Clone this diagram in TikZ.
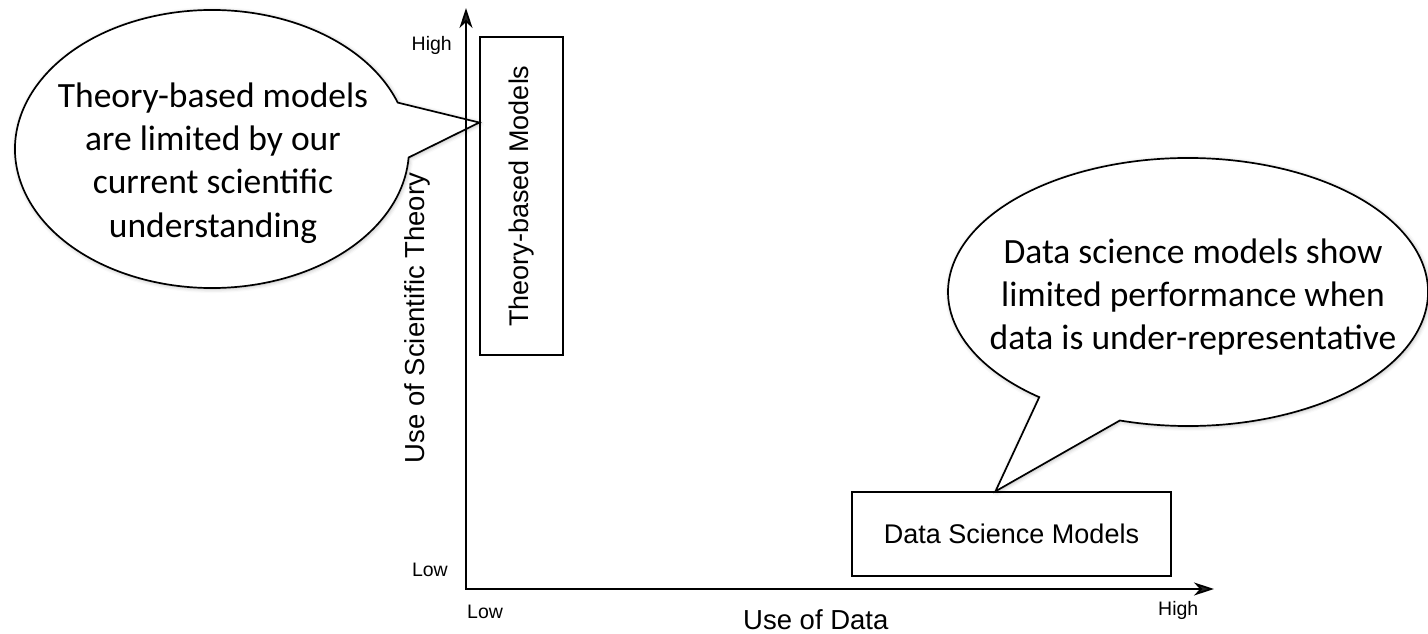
\documentclass[tikz,border=0pt]{standalone}
\usepackage{fontspec}
\setmainfont{Liberation Sans}
\newfontfamily\calloutfont{Carlito}
\usetikzlibrary{arrows.meta,calc,shadows.blur}

\begin{document}
\begin{tikzpicture}[x=1pt,y=1pt,
  frame/.style={draw, line width=1.4pt, inner sep=0pt},
  axisline/.style={line width=1.7pt, line join=miter,
    {Stealth[length=20pt,width=13pt,inset=6pt]}-{Stealth[length=20pt,width=13pt,inset=6pt]}},
  bubble/.style={draw, fill=white, line width=1.7pt, line join=miter,
    blur shadow={shadow xshift=1pt, shadow yshift=-1pt, shadow blur radius=4pt, shadow opacity=30}},
  ticklbl/.style={font=\fontsize{19.5}{22}\selectfont, inner sep=0pt},
  axislbl/.style={font=\fontsize{27.5}{32}\selectfont, inner sep=0pt},
  boxlbl/.style={font=\fontsize{27}{32}\selectfont, inner sep=0pt},
  calltext/.style={font=\calloutfont\fontsize{35.5}{43.3}\selectfont, align=center, inner sep=0pt}]
\useasboundingbox (0,0) rectangle (1428,633);

% model boxes
\node[frame, minimum width=83pt, minimum height=318pt] (tbox) at (521.5,437) {};
\node[boxlbl, rotate=90] (tlbl) at (tbox.center) {Theory-based Models};
\node[frame, minimum width=319pt, minimum height=84pt] (dbox) at (1011.5,99) {};
\node[boxlbl] (dlbl) at (dbox.center) {Data Science Models};

% callout tips on the boxes
\coordinate (tip1) at ($(tbox.north west)!0.27!(tbox.south west)$);
\coordinate (tip2) at ($(dbox.north west)!0.45!(dbox.north east)$);

% speech bubbles
\coordinate (c1) at (212,484);
\draw[bubble] ($(c1)+(19.5:197pt and 139pt)$)
  arc[start angle=19.5, end angle=356.5, x radius=197pt, y radius=139pt]
  -- (tip1) -- cycle;
\node[calltext] (t1) at (213,470) {Theory-based models\\are limited by our\\current scientific\\understanding};

\coordinate (c2) at (1188,341);
\draw[bubble] ($(c2)+(253.5:240pt and 134pt)$)
  arc[start angle=253.5, end angle=591.7, x radius=240pt, y radius=134pt]
  -- (tip2) -- cycle;
\node[calltext] (t2) at (1193,336) {Data science models show\\limited performance when\\data is under-representative};

% axes
\coordinate (O) at (466,44);
\coordinate (ytip) at (466,625);
\coordinate (xtip) at (1214,44);
\draw[axisline] (ytip) -- (O) -- (xtip);

% axis labels
\node[ticklbl, anchor=east] (yhigh) at (452,588) {High};
\node[ticklbl, anchor=east] (ylow) at (448,63) {Low};
\node[ticklbl, anchor=west] (xlow) at (467,21) {Low};
\node[ticklbl, anchor=west] (xhigh) at (1158,23) {High};
\node[axislbl, anchor=base west] (xlbl) at (743,4) {Use of Data};
\node[axislbl, rotate=90] (ylbl) at (417,315) {Use of Scientific Theory};
\end{tikzpicture}
\end{document}
